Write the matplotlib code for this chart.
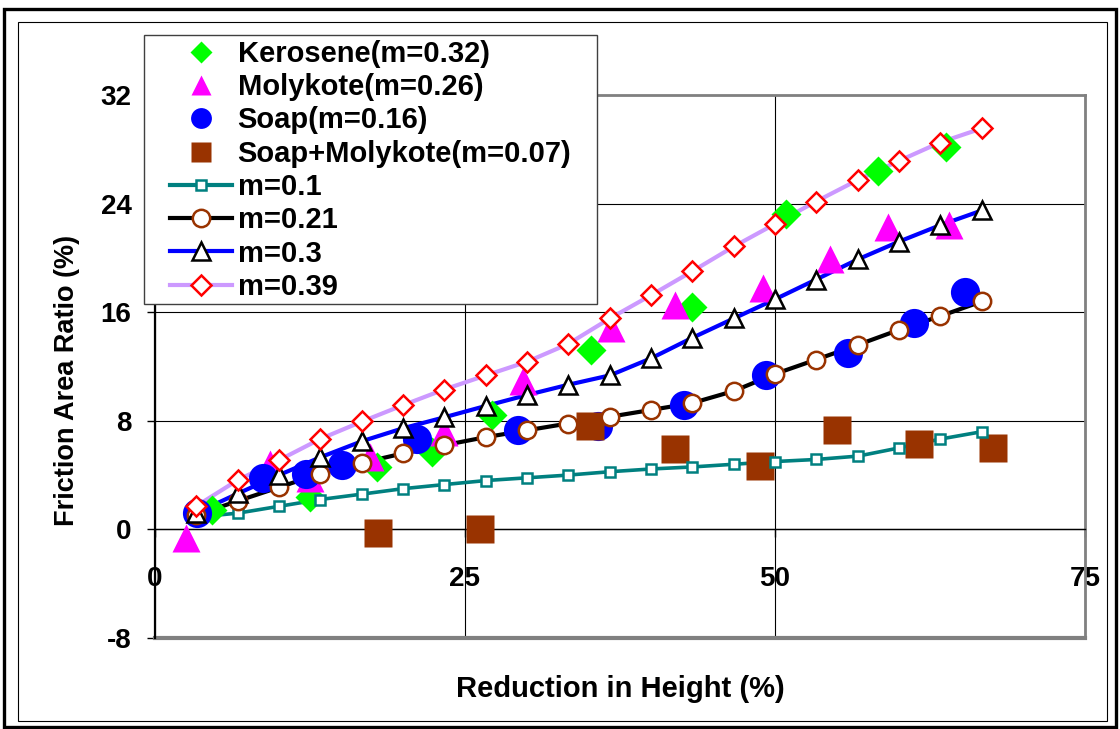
import matplotlib
matplotlib.use('Agg')
import matplotlib.pyplot as plt
from matplotlib.lines import Line2D
from matplotlib.patches import Rectangle

plt.rcParams['font.family'] = ['Liberation Sans', 'DejaVu Sans']
plt.rcParams['font.weight'] = 'bold'
plt.rcParams['axes.unicode_minus'] = False

#%% datos leidos de la grafica
# series experimentales (solo marcadores)
x_kerosene = [4.6, 12.5, 17.9, 22.3, 27.2, 35.2, 43.3, 50.9, 58.3, 63.8]
y_kerosene = [1.4, 2.4, 4.6, 5.7, 8.4, 13.2, 16.4, 23.2, 26.4, 28.2]

x_molykote = [2.5, 9.3, 12.5, 17.3, 23.3, 29.7, 36.8, 41.9, 49.0, 54.4, 59.1, 64.0]
y_molykote = [-0.6, 4.8, 3.8, 5.3, 7.2, 10.9, 14.8, 16.5, 17.8, 19.9, 22.3, 22.4]

x_soap = [3.4, 8.7, 12.2, 15.1, 21.1, 29.3, 35.7, 42.7, 49.3, 55.9, 61.2, 65.3]
y_soap = [1.2, 3.8, 4.05, 4.75, 6.65, 7.3, 7.6, 9.15, 11.4, 13.0, 15.2, 17.5]

x_soapmoly = [18.0, 26.2, 35.1, 41.9, 48.8, 55.0, 61.6, 67.6]
y_soapmoly = [-0.3, 0.0, 7.6, 5.9, 4.7, 7.3, 6.3, 6.0]

# curvas teoricas (linea + marcador)
x_m = [3.3, 6.7, 10.0, 13.3, 16.7, 20.0, 23.3, 26.7, 30.0, 33.3,
       36.7, 40.0, 43.3, 46.7, 50.0, 53.3, 56.7, 60.0, 63.3, 66.7]
m01 = [0.9, 1.2, 1.7, 2.2, 2.6, 3.0, 3.3, 3.6, 3.8, 4.0,
       4.25, 4.45, 4.6, 4.8, 5.0, 5.15, 5.4, 6.0, 6.65, 7.2]
m021 = [1.05, 2.1, 3.1, 4.1, 4.9, 5.6, 6.2, 6.8, 7.3, 7.8,
        8.3, 8.8, 9.3, 10.2, 11.45, 12.5, 13.6, 14.7, 15.7, 16.8]
m03 = [1.2, 2.65, 4.0, 5.3, 6.5, 7.45, 8.25, 9.1, 9.9, 10.65,
       11.35, 12.6, 14.1, 15.55, 16.95, 18.4, 19.9, 21.2, 22.4, 23.5]
m039 = [1.7, 3.65, 5.1, 6.65, 7.95, 9.15, 10.3, 11.35, 12.35, 13.65,
        15.55, 17.25, 19.0, 20.85, 22.5, 24.15, 25.75, 27.15, 28.5, 29.55]

x_ticks = [0, 25, 50, 75]
y_ticks = [-8, 0, 8, 16, 24, 32]

#%% figura
fig = plt.figure(figsize=(11.2, 7.29), dpi=100)
W, H = 1120.0, 729.0

# marcos exteriores (grueso y delgado)
fig.add_artist(Rectangle((4 / W, 1 - 727 / H), 1112 / W, 718 / H, transform=fig.transFigure,
                         fill=False, edgecolor='black', lw=2.4))
fig.add_artist(Rectangle((18 / W, 1 - 721 / H), 1089 / W, 699 / H, transform=fig.transFigure,
                         fill=False, edgecolor='black', lw=0.8))

ax = fig.add_axes([155 / W, 1 - 638 / H, 930 / W, 543 / H])

# lineas de las curvas (debajo de todos los marcadores)
ax.plot(x_m, m01, color='#008080', lw=2.6, zorder=3)
ax.plot(x_m, m021, color='black', lw=3.0, zorder=3)
ax.plot(x_m, m03, color='#0000FF', lw=3.0, zorder=3)
ax.plot(x_m, m039, color='#CC99FF', lw=3.0, zorder=3)

# marcadores de datos experimentales
ax.plot(x_kerosene, y_kerosene, 'D', color='#00FF00', ms=15, mec='none', zorder=4)
ax.plot(x_molykote, y_molykote, '^', color='#FF00FF', ms=20, mec='none', zorder=5)
ax.plot(x_soap, y_soap, 'o', color='#0000FF', ms=21, mec='none', zorder=6)
ax.plot(x_soapmoly, y_soapmoly, 's', color='#993300', ms=20, mec='none', zorder=7)

# marcadores de las curvas
ax.plot(x_m, m01, 's', mfc='white', mec='#008080', mew=1.8, ms=6.5, ls='none', zorder=8)
ax.plot(x_m, m021, 'o', mfc='white', mec='#993300', mew=1.8, ms=12.5, ls='none', zorder=9)
ax.plot(x_m, m03, '^', mfc='white', mec='black', mew=1.8, ms=13, ls='none', zorder=10)
ax.plot(x_m, m039, 'D', mfc='white', mec='#FF0000', mew=1.8, ms=10, ls='none', zorder=11)

#%% ejes
ax.set_xlim(0, 75)
ax.set_ylim(-8, 32)
ax.set_xticks(x_ticks)
ax.set_yticks(y_ticks)
ax.grid(True, color='black', lw=0.8, zorder=1)
ax.set_axisbelow(True)

# eje x en y=0
ax.spines['bottom'].set_position(('data', 0))
ax.spines['bottom'].set_color('black')
ax.spines['bottom'].set_linewidth(1.0)
ax.spines['left'].set_color('black')
ax.spines['left'].set_linewidth(1.6)
ax.spines['left'].set_zorder(12)
ax.spines['top'].set_color('#808080')
ax.spines['top'].set_linewidth(2)
ax.spines['right'].set_color('#808080')
ax.spines['right'].set_linewidth(2)
ax.axhline(-8, color='#808080', lw=3, zorder=2, clip_on=False)

ax.tick_params(axis='y', direction='out', length=6, width=1, pad=11, labelsize=20)
ax.tick_params(axis='x', direction='out', length=6, width=1, pad=20, labelsize=20)

ax.set_xlabel('Reduction in Height (%)', fontsize=21, fontweight='bold', va='center')
ax.xaxis.set_label_coords(0.5, -0.094)
ax.set_ylabel('Friction Area Ratio (%)', fontsize=19.5, fontweight='bold', va='center')
ax.yaxis.set_label_coords(-0.0945, 0.474)

#%% leyenda (caja dibujada aparte)
fig.add_artist(Rectangle((144 / W, 1 - 304 / H), 453 / W, 269 / H, transform=fig.transFigure,
                         facecolor='white', edgecolor='#404040', lw=1.0, zorder=2))

handles = [
    Line2D([], [], ls='none', marker='D', color='#00FF00', ms=11, mec='none'),
    Line2D([], [], ls='none', marker='^', color='#FF00FF', ms=15, mec='none'),
    Line2D([], [], ls='none', marker='o', color='#0000FF', ms=15, mec='none'),
    Line2D([], [], ls='none', marker='s', color='#993300', ms=14, mec='none'),
    Line2D([], [], color='#008080', lw=3, marker='s', mfc='white', mec='#008080', mew=1.8, ms=6.5),
    Line2D([], [], color='black', lw=3, marker='o', mfc='white', mec='#993300', mew=1.8, ms=12.5),
    Line2D([], [], color='#0000FF', lw=3, marker='^', mfc='white', mec='black', mew=1.8, ms=13),
    Line2D([], [], color='#CC99FF', lw=3, marker='D', mfc='white', mec='#FF0000', mew=1.8, ms=10),
]
labels = ['Kerosene(m=0.32)', 'Molykote(m=0.26)', 'Soap(m=0.16)', 'Soap+Molykote(m=0.07)',
          'm=0.1', 'm=0.21', 'm=0.3', 'm=0.39']
leg = fig.legend(handles, labels, loc='upper left', bbox_to_anchor=(170 / W, 1 - 40 / H),
                 bbox_transform=fig.transFigure, borderaxespad=0, borderpad=0,
                 frameon=False, numpoints=1, handlelength=2.12, handletextpad=0.2,
                 labelspacing=0.18, prop={'size': 21, 'weight': 'bold'})
leg.set_zorder(5)

plt.savefig('out.png', dpi=100)
